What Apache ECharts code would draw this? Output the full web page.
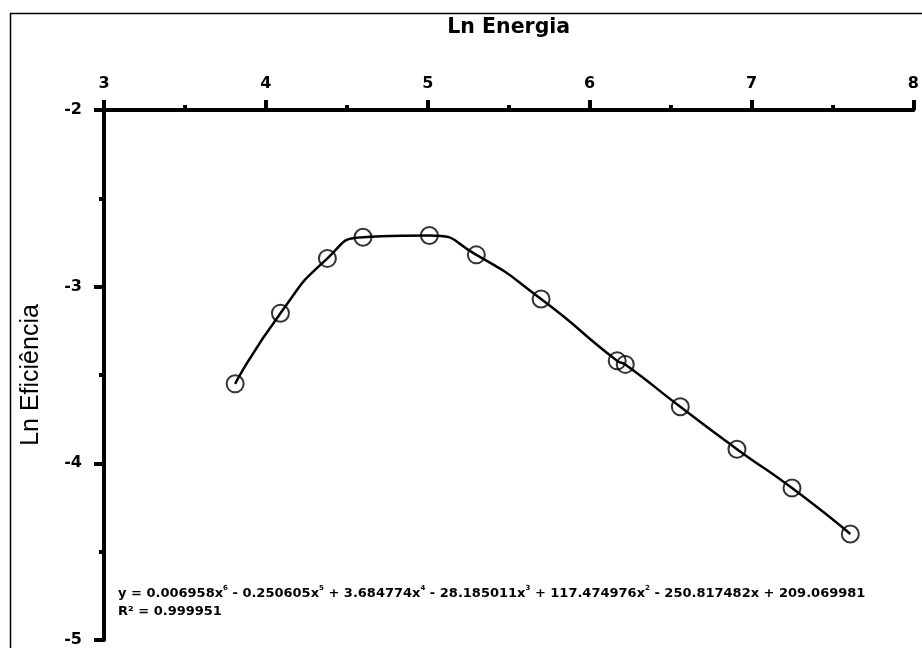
<!DOCTYPE html>
<html>
<head>
<meta charset="utf-8">
<script src="https://cdn.jsdelivr.net/npm/echarts@6/dist/echarts.min.js"></script>
<style>
  html, body { margin: 0; padding: 0; background: #fff; }
  #chart { width: 922px; height: 648px; }
</style>
</head>
<body>
<div id="chart"></div>
<script>
// Measured points: ln(energy) vs ln(efficiency)
const lnEnergy = [3.81, 4.09, 4.38, 4.60, 5.01, 5.30, 5.70, 6.17, 6.22, 6.56, 6.91, 7.25, 7.61];
const lnEfficiency = [-3.55, -3.15, -2.84, -2.72, -2.71, -2.82, -3.07, -3.42, -3.44, -3.68, -3.92, -4.14, -4.40];

// 6th-order polynomial trendline coefficients as printed, highest power first (x^6 ... x^0)
const trendCoefficients = [0.006958, -0.250605, 3.684774, -28.185011, 117.474976, -250.817482, 209.069981];
const rSquared = 0.999951;

// Axis ranges
const xRange = [3, 8];
const yRange = [-5, -2];

const BOLD_FONT = '"DejaVu Sans", "Liberation Sans", sans-serif';
const PLAIN_FONT = '"Liberation Sans", Arial, sans-serif';

// Trendline equation label built from the coefficients
function equationRich() {
  const deg = trendCoefficients.length - 1;
  const parts = [];
  trendCoefficients.forEach((c, i) => {
    const p = deg - i;
    const mag = Math.abs(c).toFixed(6);
    const head = i === 0 ? (c < 0 ? '-' : '') + mag : (c < 0 ? ' - ' : ' + ') + mag;
    if (p >= 2) parts.push('{b|' + head + 'x}{s|' + p + '}');
    else if (p === 1) parts.push('{b|' + head + 'x}');
    else parts.push('{b|' + head + '}');
  });
  return '{b|y = }' + parts.join('') + '\n{b|R² = ' + rSquared.toFixed(6) + '}';
}

const points = lnEnergy.map((x, i) => [x, lnEfficiency[i]]);

const chart = echarts.init(document.getElementById('chart'), null, { renderer: 'canvas' });

const axisLineStyle = { color: '#000', width: 4 };

chart.setOption({
  animation: false,
  backgroundColor: '#fff',
  grid: { left: 104, right: 5, top: 110, bottom: 8, containLabel: false },
  xAxis: {
    type: 'value',
    position: 'top',
    min: xRange[0], max: xRange[1], interval: 1,
    name: 'Ln Energia',
    nameLocation: 'middle',
    nameGap: 72,
    nameTextStyle: { fontFamily: BOLD_FONT, fontWeight: 'bold', fontSize: 20.5, color: '#000' },
    axisLine: { onZero: false, lineStyle: axisLineStyle },
    axisTick: { show: true, length: 10, lineStyle: { color: '#000', width: 4 } },
    minorTick: { show: true, splitNumber: 2, length: 5, lineStyle: { color: '#000', width: 4 } },
    splitLine: { show: false },
    axisLabel: { fontFamily: BOLD_FONT, fontWeight: 'bold', fontSize: 16, color: '#000', margin: 18 }
  },
  yAxis: {
    type: 'value',
    min: yRange[0], max: yRange[1], interval: 1,
    name: 'Ln Eficiência',
    nameLocation: 'middle',
    nameGap: 60,
    nameTextStyle: { fontFamily: PLAIN_FONT, fontSize: 25, color: '#000' },
    axisLine: { onZero: false, lineStyle: axisLineStyle },
    axisTick: { show: true, length: 10, lineStyle: { color: '#000', width: 4 } },
    minorTick: { show: true, splitNumber: 2, length: 5, lineStyle: { color: '#000', width: 4 } },
    splitLine: { show: false },
    axisLabel: { fontFamily: BOLD_FONT, fontWeight: 'bold', fontSize: 16, color: '#000', margin: 22 }
  },
  series: [
    {
      // smooth trend curve through the measured points
      type: 'line',
      data: points,
      showSymbol: false,
      smooth: 0.6,
      lineStyle: { color: '#000', width: 2.5 },
      z: 2
    },
    {
      type: 'scatter',
      data: points,
      symbol: 'circle',
      symbolSize: 17,
      itemStyle: { color: 'rgba(0,0,0,0)', borderColor: '#000', borderWidth: 2 },
      z: 3
    }
  ],
  graphic: [
    {
      type: 'rect',
      silent: true,
      z: -1,
      shape: { x: 10.5, y: 13.5, width: 940, height: 700 },
      style: { fill: 'none', stroke: '#000', lineWidth: 1.5 }
    },
    {
      type: 'text',
      left: 118,
      top: 585,
      style: {
        text: equationRich(),
        rich: {
          b: { fontFamily: BOLD_FONT, fontWeight: 'bold', fontSize: 13, fill: '#000', lineHeight: 18 },
          s: { fontFamily: BOLD_FONT, fontWeight: 'bold', fontSize: 7, fill: '#000', verticalAlign: 'top', lineHeight: 18 }
        }
      }
    }
  ]
});
</script>
</body>
</html>
